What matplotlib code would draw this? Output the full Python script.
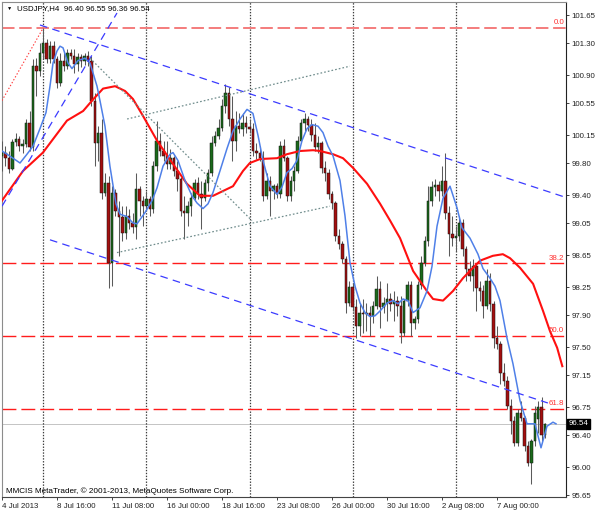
import matplotlib
matplotlib.use("Agg")
import matplotlib.pyplot as plt
import numpy as np

plt.rcParams['font.family'] = ['Liberation Sans', 'DejaVu Sans']
plt.rcParams['lines.scale_dashes'] = False

symbol_title = "USDJPY,H4  96.40 96.55 96.36 96.54"
copyright_text = "MMCIS MetaTrader, \u00a9 2001-2013, MetaQuotes Software Corp."

opens = [99.89, 99.93, 99.86, 99.73, 100.06, 100.10, 100.01, 100.04, 100.30, 100.00,
         101.01, 100.95, 101.18, 101.30, 101.10, 101.26, 101.10, 100.80, 101.08, 101.01,
         101.18, 101.14, 101.04, 101.13, 101.08, 101.14, 101.08, 100.58, 100.05, 100.18,
         99.43, 99.55, 98.55, 99.43, 99.20, 99.13, 98.93, 99.14, 99.05, 99.00,
         99.48, 99.33, 99.26, 99.35, 99.23, 99.76, 100.08, 99.95, 99.89, 99.79,
         99.86, 99.70, 99.60, 99.20, 99.18, 99.26, 99.36, 99.55, 99.41, 99.36,
         99.55, 99.68, 100.05, 100.14, 100.24, 100.51, 100.68, 100.35, 100.08, 100.26,
         100.23, 100.30, 100.25, 100.23, 99.95, 99.93, 99.86, 99.39, 99.58, 99.45,
         99.51, 99.41, 100.01, 99.86, 99.39, 99.58, 99.70, 100.08, 100.30, 100.35,
         100.28, 100.15, 100.00, 100.05, 99.74, 99.68, 99.41, 99.30, 98.89, 98.79,
         98.60, 98.05, 98.25, 98.00, 97.76, 97.93, 97.91, 97.93, 97.89, 98.01,
         98.23, 98.00, 98.05, 98.10, 98.04, 98.08, 98.01, 97.68, 98.08, 98.28,
         97.80, 97.85, 98.28, 98.55, 98.83, 99.33, 99.50, 99.53, 99.45, 99.58,
         99.18, 98.91, 98.86, 98.89, 99.05, 98.73, 98.48, 98.39, 98.51, 98.24,
         98.20, 98.01, 98.33, 98.04, 97.61, 97.54, 97.18, 97.08, 96.76, 96.58,
         96.30, 96.68, 96.61, 96.26, 96.05, 96.33, 96.60, 96.75, 96.40]
highs = [100.08, 100.01, 99.95, 100.10, 100.18, 100.14, 100.10, 100.35, 100.45, 101.10,
         101.11, 101.30, 101.49, 101.35, 101.33, 101.33, 101.14, 101.18, 101.20, 101.23,
         101.23, 101.23, 101.18, 101.16, 101.18, 101.20, 101.14, 100.68, 100.26, 100.35,
         99.68, 99.64, 99.51, 99.48, 99.33, 99.26, 99.26, 99.23, 99.18, 99.68,
         99.51, 99.39, 99.45, 99.39, 99.83, 100.33, 100.18, 100.08, 100.08, 99.98,
         99.89, 99.83, 99.62, 99.39, 99.33, 99.43, 99.60, 99.63, 99.58, 99.60,
         99.73, 100.14, 100.20, 100.35, 100.60, 100.79, 100.75, 100.64, 100.45, 100.43,
         100.43, 100.39, 100.35, 100.30, 100.05, 100.01, 99.95, 99.68, 99.64, 99.54,
         99.55, 100.08, 100.10, 99.89, 99.64, 99.76, 100.14, 100.35, 100.43, 100.39,
         100.35, 100.30, 100.14, 100.08, 99.83, 99.73, 99.45, 99.33, 98.98, 98.83,
         98.64, 98.33, 98.30, 98.10, 98.05, 98.10, 98.05, 98.01, 98.08, 98.39,
         98.33, 98.13, 98.30, 98.18, 98.20, 98.14, 98.14, 98.10, 98.33, 98.33,
         97.89, 98.33, 98.64, 98.89, 99.51, 99.58, 99.60, 99.58, 99.76, 99.93,
         99.26, 99.14, 99.01, 99.14, 99.10, 98.76, 98.58, 98.60, 98.55, 98.33,
         98.28, 98.48, 98.43, 98.08, 97.76, 97.58, 97.30, 97.14, 96.85, 96.64,
         96.73, 96.83, 96.64, 96.33, 96.35, 96.76, 96.83, 96.88, 96.55]
lows = [99.70, 99.76, 99.68, 99.71, 100.01, 99.95, 99.93, 100.00, 99.95, 99.95,
        100.64, 100.89, 101.10, 101.05, 101.05, 101.05, 100.74, 100.76, 100.95, 100.98,
        101.10, 100.93, 100.95, 101.00, 101.03, 101.01, 100.51, 99.76, 99.83, 99.35,
        99.39, 98.24, 98.26, 99.14, 98.64, 98.83, 98.85, 98.98, 98.93, 98.85,
        99.14, 99.01, 99.20, 99.14, 99.18, 99.70, 99.89, 99.83, 99.73, 99.73,
        99.64, 99.45, 99.14, 98.85, 99.01, 99.14, 99.33, 99.35, 98.98, 99.33,
        99.45, 99.64, 100.01, 100.10, 100.20, 100.43, 100.26, 99.83, 99.95, 100.18,
        100.14, 100.18, 100.18, 99.89, 99.85, 99.83, 99.33, 99.35, 99.14, 99.35,
        99.36, 99.36, 99.83, 99.33, 99.33, 99.45, 99.68, 100.05, 100.20, 100.20,
        100.08, 99.95, 99.93, 99.68, 99.58, 99.35, 99.23, 98.83, 98.73, 98.55,
        97.93, 98.01, 97.95, 97.61, 97.64, 97.68, 97.70, 97.64, 97.80, 97.98,
        97.74, 97.93, 97.83, 97.95, 97.83, 97.89, 97.55, 97.64, 98.01, 97.64,
        97.73, 97.80, 98.23, 98.51, 98.76, 99.26, 99.39, 99.33, 99.39, 99.10,
        98.64, 98.76, 98.70, 98.83, 98.64, 98.33, 98.33, 98.20, 97.95, 98.08,
        97.86, 97.98, 97.95, 97.49, 97.48, 97.04, 97.01, 96.72, 96.41, 96.26,
        96.26, 96.58, 96.20, 96.01, 95.79, 96.26, 96.43, 96.33, 96.36]
closes = [99.93, 99.86, 99.73, 100.06, 100.10, 100.01, 100.04, 100.30, 100.00, 101.01,
          100.95, 101.18, 101.30, 101.10, 101.26, 101.10, 100.80, 101.08, 101.01, 101.18,
          101.14, 101.04, 101.13, 101.08, 101.14, 101.08, 100.58, 100.05, 100.18, 99.43,
          99.55, 98.55, 99.43, 99.20, 99.13, 98.93, 99.14, 99.05, 99.00, 99.48,
          99.33, 99.26, 99.35, 99.23, 99.76, 100.08, 99.95, 99.89, 99.79, 99.86,
          99.70, 99.60, 99.20, 99.18, 99.26, 99.36, 99.55, 99.41, 99.36, 99.55,
          99.68, 100.05, 100.14, 100.24, 100.51, 100.68, 100.35, 100.08, 100.26, 100.23,
          100.30, 100.25, 100.23, 99.95, 99.93, 99.86, 99.39, 99.58, 99.45, 99.51,
          99.41, 100.01, 99.86, 99.39, 99.58, 99.70, 100.08, 100.30, 100.35, 100.28,
          100.15, 100.00, 100.05, 99.74, 99.68, 99.41, 99.30, 98.89, 98.79, 98.60,
          98.05, 98.25, 98.00, 97.76, 97.93, 97.91, 97.93, 97.89, 98.01, 98.23,
          98.00, 98.05, 98.10, 98.04, 98.08, 98.01, 97.68, 98.08, 98.28, 97.80,
          97.85, 98.28, 98.55, 98.83, 99.33, 99.50, 99.53, 99.45, 99.58, 99.18,
          98.91, 98.86, 98.89, 99.05, 98.73, 98.48, 98.39, 98.51, 98.24, 98.20,
          98.01, 98.33, 98.04, 97.61, 97.54, 97.18, 97.08, 96.76, 96.58, 96.30,
          96.68, 96.61, 96.26, 96.05, 96.33, 96.68, 96.75, 96.40, 96.54]

date_tick_bars = [0, 16, 32, 48, 64, 80, 96, 112, 128, 144]
date_tick_labels = ["4 Jul 2013", "8 Jul 16:00", "11 Jul 08:00", "16 Jul 00:00",
                    "18 Jul 16:00", "23 Jul 08:00", "26 Jul 00:00", "30 Jul 16:00",
                    "2 Aug 08:00", "7 Aug 00:00"]
week_separator_bars = [12, 42, 72, 102, 132]
price_ticks = [101.65, 101.30, 100.90, 100.55, 100.15, 99.80, 99.40, 99.05, 98.65,
               98.25, 97.90, 97.50, 97.15, 96.75, 96.40, 96.00, 95.65]
fib_levels = [101.49, 98.55, 97.64, 96.73]
fib_labels = ["0.0", "38.2", "50.0", "61.8"]
last_price = 96.54

blue_ma_bars = [0.0, 1.45, 3.2, 5.24, 7.27, 9.02, 11.05, 12.8, 13.96, 14.84, 16.0, 16.87,
                17.75, 19.2, 20.36, 22.1, 24.15, 25.6, 27.64, 28.5, 29.96, 31.4, 33.16,
                34.33, 36.36, 38.1, 39.27, 41.6, 43.64, 45.1, 46.84, 48.87, 49.75, 51.2,
                53.24, 55.27, 56.73, 58.47, 59.93, 61.38, 63.4, 65.45, 67.2, 69.24, 71.27,
                73.0, 74.5, 75.93, 77.96, 80.0, 81.45, 82.9, 84.36, 85.8, 87.27, 88.73,
                90.18, 91.93, 93.38, 94.84, 96.29, 98.33, 99.78, 101.24, 102.7, 104.15,
                105.6, 107.05, 108.5, 109.96, 112.0, 113.75, 115.2, 116.65, 118.1, 119.56,
                121.6, 123.64, 125.1, 126.55, 128.3, 130.33, 132.36, 133.82, 136.15,
                138.47, 139.93, 141.96, 143.42, 144.87, 146.91, 148.65, 150.69, 152.73,
                155.05, 156.8, 158.55, 160.29, 161.16]
blue_ma_vals = [99.95, 99.91, 99.86, 99.80, 99.91, 100.01, 100.23, 100.43, 100.76, 101.05,
                101.20, 101.26, 101.24, 101.05, 100.98, 101.08, 101.11, 101.05, 100.76,
                100.58, 100.26, 99.76, 99.29, 99.16, 99.13, 99.05, 99.04, 99.18, 99.33,
                99.49, 99.76, 99.91, 99.93, 99.83, 99.58, 99.39, 99.30, 99.23, 99.29,
                99.43, 99.70, 99.98, 100.20, 100.35, 100.47, 100.42, 100.14, 99.83, 99.51,
                99.41, 99.50, 99.68, 99.73, 99.83, 100.08, 100.23, 100.28, 100.26, 100.18,
                100.01, 99.89, 99.58, 99.14, 98.55, 98.26, 98.05, 97.93, 97.88, 97.89,
                97.95, 98.05, 98.08, 98.04, 98.10, 98.08, 97.93, 97.99, 98.20, 98.51,
                99.01, 99.36, 99.51, 99.24, 98.99, 98.86, 98.66, 98.48, 98.36, 98.26,
                98.08, 97.61, 97.29, 96.83, 96.54, 96.54, 96.24, 96.51, 96.56, 96.54]

red_ma_bars = [0, 6.1, 11.9, 18.9, 23.6, 26.2, 29.4, 32.9, 35.8, 38.1, 41.0, 45.1, 49.7,
               53.8, 57.6, 61.4, 64.3, 67.2, 70.1, 72.1, 75.1, 80.0, 82.9, 86.7, 90.5,
               92.5, 96.3, 99.2, 102.1, 106.2, 110.0, 112.9, 115.8, 119.6, 123.6, 125.4,
               128.3, 131.2, 134.1, 136.1, 139.1, 142.8, 145.7, 147.8, 150.7, 154.5,
               157.4, 159.4, 161.5, 163.0]
red_ma_vals = [99.33, 99.70, 99.93, 100.33, 100.45, 100.58, 100.73, 100.76, 100.70, 100.60,
               100.39, 100.08, 99.79, 99.54, 99.39, 99.39, 99.45, 99.51, 99.70, 99.80,
               99.85, 99.86, 99.91, 99.95, 99.96, 99.95, 99.91, 99.86, 99.74, 99.54,
               99.29, 99.08, 98.86, 98.45, 98.20, 98.10, 98.08, 98.20, 98.36, 98.45,
               98.58, 98.64, 98.66, 98.61, 98.49, 98.29, 97.95, 97.70, 97.49, 97.26]

# hand-drawn objects: (bar positions), (prices)
channel_upper = ([11.05, 164.0], [101.525, 99.37])
channel_lower = ([13.96, 158.8], [98.84, 96.80])
steep_line = ([0.0, 33.45], [99.26, 101.675])
fib_trend = ([0.0, 12.0], [100.58, 101.49])
gray_desc = ([25.6, 72.7], [101.11, 99.08])
gray_upper = ([36.4, 101.2], [100.35, 101.01])
gray_lower = ([33.45, 95.4], [98.68, 99.26])

# ---------------------------------------------------------------
bar_px = 3.4375
fig = plt.figure(figsize=(6.0, 5.14), dpi=100)
ax = fig.add_axes([2/600, 17/514, 564/600, 495/514])
ax.set_xlim(0, 564/bar_px)
ax.set_ylim(95.625, 101.8125)

o = np.array(opens); h = np.array(highs); l = np.array(lows); c = np.array(closes)
bars = np.arange(len(o))
up = c >= o

# current price line
ax.axhline(last_price, color='#c4c4c4', lw=0.7, zorder=0.5)

# week separators
for b in week_separator_bars:
    ax.axvline(b, color='#3c3c3c', lw=0.9, dashes=(1.0, 1.1), zorder=1)

# fibonacci levels
for i, (lvl, lab) in enumerate(zip(fib_levels, fib_labels)):
    if i == 0:
        ax.axhline(lvl, color='#f47c7c', lw=1.4, dashes=(9.0, 3.4), zorder=1)
    else:
        ax.axhline(lvl, color='#ff1c1c', lw=1.0, dashes=(10.0, 3.6), zorder=1)
    ax.annotate(lab, xy=(562/564, lvl), xycoords=ax.get_yaxis_transform(),
                xytext=(0, 1.0), textcoords='offset points', ha='right', va='bottom',
                color='#ff3030', fontsize=5.7, zorder=8)

# candles
ax.vlines(bars, l, h, color='#5a5a5a', lw=0.75, zorder=3)
body_bottom = np.minimum(o, c)
body_h = np.maximum(np.abs(c - o), 0.004)
ax.bar(bars[up], body_h[up], bottom=body_bottom[up], width=0.72, color='#1b6a1b',
       edgecolor='#111111', linewidth=0.35, zorder=4)
ax.bar(bars[~up], body_h[~up], bottom=body_bottom[~up], width=0.72, color='#a30f0f',
       edgecolor='#111111', linewidth=0.35, zorder=4)

# moving averages
ax.plot(red_ma_bars, red_ma_vals, color='#ff1010', lw=1.5, zorder=5, solid_joinstyle='round')
ax.plot(blue_ma_bars, blue_ma_vals, color='#4f80e8', lw=1.1, zorder=5, solid_joinstyle='round')

# trend lines
for ln in (channel_upper, channel_lower, steep_line):
    ax.plot(ln[0], ln[1], color='#3b3bff', lw=0.9, dashes=(5.5, 3.8), zorder=6)
for ln in (gray_desc, gray_upper, gray_lower):
    ax.plot(ln[0], ln[1], color='#6f8c8c', lw=0.9, dashes=(1.2, 1.5), zorder=6)
ax.plot(fib_trend[0], fib_trend[1], color='#ff3a3a', lw=0.8, dashes=(1.0, 1.4), zorder=6)

# axes styling
for s in ('left', 'top'):
    ax.spines[s].set_color('#8c8c8c')
    ax.spines[s].set_linewidth(0.8)
ax.spines['right'].set_color('#222222')
ax.spines['right'].set_linewidth(0.8)
ax.spines['bottom'].set_color('#444444')
ax.spines['bottom'].set_linewidth(0.8)

ax.yaxis.tick_right()
ax.set_yticks(price_ticks)
ax.set_yticklabels([f"{v:.2f}" for v in price_ticks], fontsize=5.7)
ax.tick_params(axis='y', direction='out', length=2.2, width=0.6, pad=1.6, colors='#222222')

ax.set_xticks(date_tick_bars)
ax.set_xticklabels(date_tick_labels, fontsize=5.7)
for lbl in ax.get_xticklabels():
    lbl.set_horizontalalignment('left')
ax.tick_params(axis='x', direction='out', length=2.4, width=0.6, pad=1.8, colors='#222222')

# last price box
ax.text(1.005, last_price, f"{last_price:.2f}", transform=ax.get_yaxis_transform(),
        ha='left', va='center', fontsize=5.7, color='white', zorder=10, clip_on=False,
        bbox=dict(boxstyle='square,pad=0.18', fc='black', ec='black'))

# title & copyright
ax.text(8/564, 1 - 6/495, "\u25bc", transform=ax.transAxes, fontsize=3.8,
        ha='center', va='center', color='black')
ax.text(15/564, 1 - 7/495, symbol_title, transform=ax.transAxes, fontsize=5.7,
        ha='left', va='center', color='black')
ax.text(4/564, 6/495, copyright_text, transform=ax.transAxes, fontsize=5.9,
        ha='left', va='center', color='black')

fig.savefig("out.png", dpi=100)
